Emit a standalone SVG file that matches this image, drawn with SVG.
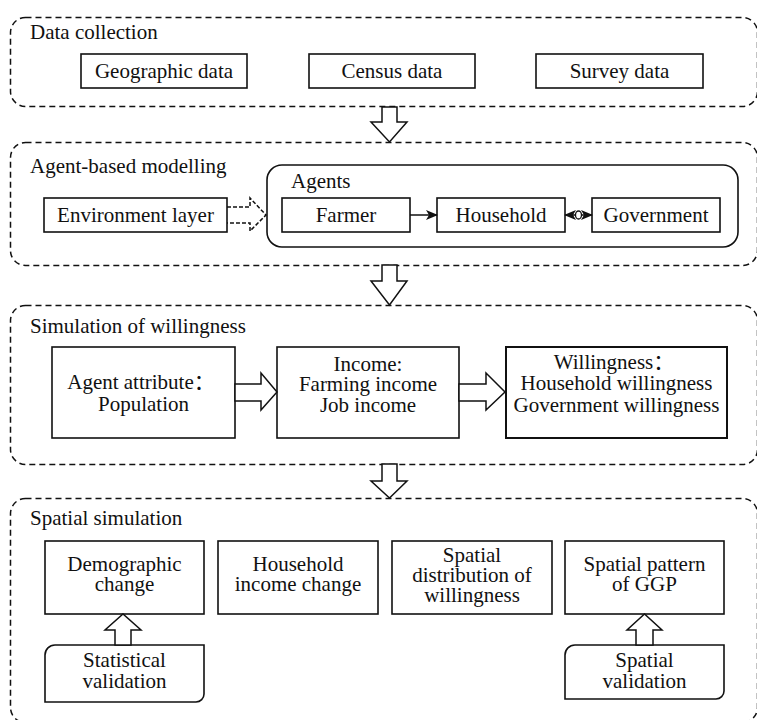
<svg xmlns="http://www.w3.org/2000/svg" width="757" height="720" viewBox="0 0 757 720">
<defs>
<style>
text{font-family:"Liberation Serif","Times New Roman",serif;font-size:21px;fill:#111}
.cjk{font-family:"Noto Sans CJK SC",sans-serif}
.c{text-anchor:middle}
.sec{fill:none;stroke:#111;stroke-width:1.5;stroke-dasharray:6 4}
.box{fill:#fff;stroke:#111;stroke-width:1.6}
.harrow{fill:#fff;stroke:#111;stroke-width:1.5;stroke-linejoin:miter}
.line{fill:none;stroke:#111;stroke-width:1.5}
</style>
<marker id="ah" viewBox="0 0 12 10" refX="11" refY="5" markerWidth="12" markerHeight="10" markerUnits="userSpaceOnUse" orient="auto-start-reverse">
<path d="M0,0 L12,5 L0,10 L3,5 Z" fill="#111"/>
</marker>
</defs>
<rect width="757" height="720" fill="#fff"/>

<g id="sections">
<rect class="sec" x="10.5" y="17.5" width="747" height="89" rx="15"/>
<rect class="sec" x="10.5" y="142.5" width="747" height="123" rx="15"/>
<rect class="sec" x="10.5" y="305.5" width="747" height="159" rx="15"/>
<rect class="sec" x="10.5" y="498.5" width="747" height="224" rx="15"/>
<text x="30" y="39">Data collection</text>
<text x="30" y="173">Agent-based modelling</text>
<text x="30" y="333">Simulation of willingness</text>
<text x="30" y="525">Spatial simulation</text>
</g>

<g id="geographic"><rect class="box" x="81" y="54" width="166" height="34"/><text class="c" x="164" y="78">Geographic data</text></g>
<g id="census"><rect class="box" x="309" y="54" width="166" height="34"/><text class="c" x="392" y="78">Census data</text></g>
<g id="survey"><rect class="box" x="536" y="54" width="167" height="34"/><text class="c" x="619.5" y="78">Survey data</text></g>

<g id="agents"><rect class="box" x="267" y="165" width="471" height="82" rx="15"/><text x="291" y="188">Agents</text></g>
<g id="environment"><rect class="box" x="44" y="198" width="183" height="34"/><text class="c" x="135.5" y="222">Environment layer</text></g>
<g id="farmer"><rect class="box" x="282" y="198" width="128" height="34"/><text class="c" x="346" y="222">Farmer</text></g>
<g id="household"><rect class="box" x="437" y="198" width="128" height="34"/><text class="c" x="501" y="222">Household</text></g>
<g id="government"><rect class="box" x="592" y="198" width="128" height="34"/><text class="c" x="656" y="222">Government</text></g>

<g id="attribute"><rect class="box" x="52" y="347" width="183" height="91"/><text class="c" x="141" y="389">Agent attribute<tspan class="cjk">：</tspan></text><text class="c" x="143.5" y="411">Population</text></g>
<g id="income"><rect class="box" x="277" y="347" width="182" height="91"/><text class="c" x="368" y="371">Income:</text><text class="c" x="368" y="391">Farming income</text><text class="c" x="368" y="412">Job income</text></g>
<g id="willingness"><rect class="box" x="506" y="347" width="221" height="91" style="stroke-width:2"/><text class="c" x="614" y="369">Willingness<tspan class="cjk">：</tspan></text><text class="c" x="616.5" y="390">Household willingness</text><text class="c" x="616.5" y="412">Government willingness</text></g>

<g id="demographic"><rect class="box" x="45" y="541" width="159" height="73"/><text class="c" x="124.5" y="571">Demographic</text><text class="c" x="124.5" y="591">change</text></g>
<g id="household-income"><rect class="box" x="218" y="541" width="160" height="73"/><text class="c" x="298" y="571">Household</text><text class="c" x="298" y="591">income change</text></g>
<g id="spatial-distribution"><rect class="box" x="392" y="541" width="160" height="73"/><text class="c" x="472" y="562">Spatial</text><text class="c" x="472" y="582">distribution of</text><text class="c" x="472" y="602">willingness</text></g>
<g id="spatial-pattern"><rect class="box" x="565" y="541" width="159" height="73"/><text class="c" x="644.5" y="571">Spatial pattern</text><text class="c" x="644.5" y="591">of GGP</text></g>
<g id="statistical-validation"><path class="box" d="M45,702 V655 A10,10 0 0 1 55,645 H204 V694 A8,8 0 0 1 196,702 Z"/><text class="c" x="124.5" y="667">Statistical</text><text class="c" x="124.5" y="688">validation</text></g>
<g id="spatial-validation"><path class="box" d="M565,699 V655 A10,10 0 0 1 575,645 H724 V691 A8,8 0 0 1 716,699 Z"/><text class="c" x="644.5" y="667">Spatial</text><text class="c" x="644.5" y="688">validation</text></g>

<g id="connectors">
<path class="harrow" d="M382,107 H397 V122 H407 L389.5,142 L371,122 H382 Z"/>
<path class="harrow" d="M382,265 H397 V281 H407 L389.5,305 L371,281 H382 Z"/>
<path class="harrow" d="M382,464 H397 V481 H407 L389.5,498 L371,481 H382 Z"/>
<path class="line" d="M227,207 H250 V198 L266,215 L250,231 V223 H227" style="stroke-dasharray:4 2"/>
<line class="line" x1="410" y1="215" x2="437" y2="215" marker-end="url(#ah)"/>
<line class="line" x1="565" y1="215" x2="592" y2="215" marker-start="url(#ah)" marker-end="url(#ah)"/>
<ellipse cx="578.5" cy="215" rx="3" ry="4" fill="#fff" stroke="#111" stroke-width="1.3"/>
<path class="harrow" d="M235,384 H261 V373 L277,392 L261,410 V401 H235 Z"/>
<path class="harrow" d="M459,384 H486 V373 L505,392 L486,410 V401 H459 Z"/>
<path class="harrow" d="M115,645 V630 H105 L123,614 L141,630 H131 V645 Z"/>
<path class="harrow" d="M636,645 V630 H627 L644.5,614 L662,630 H653 V645 Z"/>
</g>
</svg>
